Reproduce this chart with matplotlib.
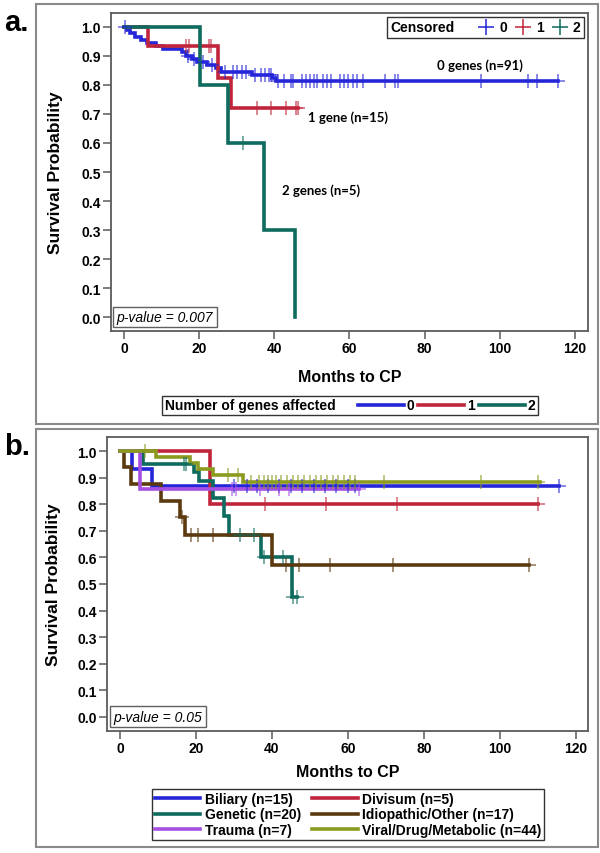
import matplotlib
matplotlib.use('Agg')
import matplotlib.pyplot as plt
import numpy as np
from matplotlib.lines import Line2D
from matplotlib.patches import Rectangle
from matplotlib.offsetbox import HPacker

plt.rcParams['font.family'] = ['Liberation Sans', 'DejaVu Sans']
plt.rcParams['font.weight'] = 'bold'

# ---- panel a: number of genes affected ----
a_names = ['0', '1', '2']
a_colors = ['#2626d9', '#c0253c', '#0e6b5d']
a_event_t = [[0.7, 1.6, 3.0, 4.5, 6.0, 8.5, 10.5, 15.5, 16.5, 18.0, 19.5, 22.0, 24.5, 25.8, 34.0, 39.5, 40.5],
             [6.5, 25.0, 28.5],
             [20.2, 27.7, 37.2, 45.4]]
a_event_s = [[0.989, 0.978, 0.967, 0.956, 0.945, 0.934, 0.923, 0.912, 0.901, 0.890, 0.879, 0.868, 0.857, 0.846, 0.834, 0.825, 0.815],
             [0.933, 0.825, 0.72],
             [0.8, 0.6, 0.3, 0.0]]
a_cens_t = [[0.3, 17.0, 18.5, 21.0, 23.5, 27.0, 29.0, 30.0, 31.5, 32.5, 35.0, 36.5, 37.5, 38.5, 39.0,
             41.0, 42.5, 44.5, 45.0, 47.5, 48.5, 49.5, 50.5, 51.5, 53.0, 54.0, 55.0, 57.5, 58.5, 59.5,
             61.0, 62.0, 63.5, 69.5, 72.0, 73.0, 95.0, 107.5, 110.0, 115.5],
            [16.6, 17.2, 22.6, 23.1, 35.4, 39.1, 43.2, 45.8, 46.3],
            [31.7]]
a_end = [115.5, 46.3, 45.4]
a_notes = ['0 genes (n=91)', '1 gene (n=15)', '2 genes (n=5)']
a_note_xy = [(94.7, 0.87), (59.6, 0.692), (52.4, 0.438)]

# ---- panel b: etiology ----
b_names = ['Biliary (n=15)', 'Divisum (n=5)', 'Genetic (n=20)', 'Idiopathic/Other (n=17)',
           'Trauma (n=7)', 'Viral/Drug/Metabolic (n=44)']
b_colors = ['#2626d9', '#c0253c', '#0e6b5d', '#5b3a10', '#a64fe3', '#8b9b1f']
b_event_t = [[3.1, 8.4],
             [23.8],
             [6.2, 19.5, 20.8, 24.5, 27.4, 28.6, 37.2, 45.3],
             [1.2, 2.8, 10.7, 15.7, 17.0, 40.0],
             [5.2],
             [9.5, 18.5, 20.6, 24.6, 32.4]]
b_event_s = [[0.933, 0.867],
             [0.8],
             [0.95, 0.92, 0.887, 0.823, 0.755, 0.685, 0.60, 0.45],
             [0.94, 0.875, 0.814, 0.752, 0.683, 0.57],
             [0.857],
             [0.977, 0.955, 0.932, 0.909, 0.882]]
b_cens_t = [[30.0, 33.5, 36.0, 39.0, 42.0, 45.0, 48.0, 51.0, 54.0, 57.0, 60.0, 62.0, 115.5],
            [38.3, 54.3, 72.8, 110.0],
            [16.8, 17.3, 31.6, 35.4, 38.0, 42.8, 45.6, 46.5],
            [16.3, 18.8, 20.5, 24.6, 43.8, 47.1, 55.2, 71.9, 107.6],
            [29.5, 30.5, 37.0, 42.0, 44.5, 63.0],
            [6.6, 28.5, 31.0, 34.5, 36.5, 38.0, 39.0, 40.0, 41.0, 42.5, 44.0, 45.5, 47.0, 48.5, 50.0,
             51.5, 53.0, 54.5, 56.0, 57.5, 59.0, 60.5, 62.0, 69.5, 95.0, 110.0]]
b_end = [115.5, 110.0, 46.5, 107.6, 63.0, 110.5]

W, H = 600, 854
SPINE = '#5a5a5a'
LW = 2.6


def km_curve(ax, et, es, ct, end, color):
    t = np.r_[0, et, end]
    s = np.r_[1.0, es, es[-1]]
    ax.step(t, s, where='post', color=color, lw=LW, solid_joinstyle='miter', zorder=3)
    idx = np.searchsorted(np.r_[0, et], ct, side='right') - 1
    cy = np.r_[1.0, es][idx]
    ax.plot(ct, cy, ls='none', marker='+', ms=9.5, mew=1.1, color=color, alpha=0.7, zorder=4)


def style_axes(ax, xl, yl):
    ax.set_xlim(*xl)
    ax.set_ylim(*yl)
    ax.set_xticks(np.arange(0, 121, 20))
    ax.set_yticks(np.arange(0, 1.01, 0.1))
    ax.set_yticklabels(['%.1f' % v for v in np.arange(0, 1.01, 0.1)])
    for sp in ax.spines.values():
        sp.set_color(SPINE)
        sp.set_linewidth(1.3)
    ax.tick_params(direction='out', length=5.5, width=1.1, color=SPINE, labelsize=10, pad=2)
    for lab in ax.get_xticklabels() + ax.get_yticklabels():
        lab.set_fontweight('bold')
    ax.set_xlabel('Months to CP', fontsize=11.5, fontweight='bold')
    ax.set_ylabel('Survival Probability', fontsize=12.5, fontweight='bold')


def title_left(leg, sep):
    # put the legend title on the left of the entries instead of above them
    box = leg._legend_box
    new = HPacker(pad=box.pad, sep=sep, align='center', children=box.get_children())
    new.set_figure(leg.figure)
    new.set_offset(leg._findoffset)
    leg._legend_box = new


def fig_rect(x0, y0, x1, y1):
    return [x0 / W, 1 - y1 / H, (x1 - x0) / W, (y1 - y0) / H]


fig = plt.figure(figsize=(6, 8.54), dpi=100)

# outer frames
for y0, y1 in [(5, 425), (430, 848)]:
    fig.patches.append(Rectangle((36 / W, 1 - y1 / H), 562 / W, (y1 - y0) / H,
                                 transform=fig.transFigure, fill=False,
                                 edgecolor='#8a8a8a', lw=1.5))
fig.text(4 / W, 1 - 23 / H, 'a.', fontsize=21, fontweight='bold', va='center')
fig.text(4 / W, 1 - 447 / H, 'b.', fontsize=21, fontweight='bold', va='center')

# ---- panel a ----
ax1 = fig.add_axes(fig_rect(111, 14, 588, 332))
for i in range(3):
    km_curve(ax1, a_event_t[i], a_event_s[i], a_cens_t[i], a_end[i], a_colors[i])
for txt, (x, y) in zip(a_notes, a_note_xy):
    ax1.text(x, y, txt, fontsize=9.5, fontweight='bold', family=['Lato', 'DejaVu Sans'],
             ha='center', va='center')
style_axes(ax1, (-3.46, 123.5), (-0.048, 1.048))
ax1.xaxis.set_label_coords(0.5, -0.118)
ax1.yaxis.set_label_coords(-0.1, 0.5)
ax1.text(0.012, 0.044, 'p-value = 0.007', transform=ax1.transAxes, fontsize=10,
         fontweight='normal', style='italic', va='center', ha='left',
         bbox=dict(boxstyle='square,pad=0.25', fc='white', ec='#606060', lw=1))

cens_handles = [Line2D([], [], ls='none', marker='+', ms=12, mew=1.1, color=c) for c in a_colors]
leg1 = ax1.legend(cens_handles, a_names, loc='center', bbox_to_anchor=(485.5 / W, 1 - 28.5 / H),
                  bbox_transform=fig.transFigure, ncol=3, title='Censored',
                  title_fontproperties={'weight': 'bold', 'size': 10},
                  prop={'weight': 'bold', 'size': 10}, handlelength=1.3, handletextpad=0.3,
                  columnspacing=0.5, borderpad=0.25, fancybox=False, framealpha=1,
                  edgecolor='#333333')
leg1.get_frame().set_linewidth(1.0)
title_left(leg1, 16)

line_handles = [Line2D([], [], color=c, lw=LW) for c in a_colors]
leg2 = fig.legend(line_handles, a_names, loc='center', bbox_to_anchor=(350 / W, 1 - 406.5 / H),
                  ncol=3, title='Number of genes affected',
                  title_fontproperties={'weight': 'bold', 'size': 10},
                  prop={'weight': 'bold', 'size': 10}, handlelength=3.3, handletextpad=0.2,
                  columnspacing=0.3, borderpad=0.2, fancybox=False, framealpha=1,
                  edgecolor='#333333')
leg2.get_frame().set_linewidth(1.0)
title_left(leg2, 16)

# ---- panel b ----
ax2 = fig.add_axes(fig_rect(107, 438, 588, 732))
for i in range(6):
    km_curve(ax2, b_event_t[i], b_event_s[i], b_cens_t[i], b_end[i], b_colors[i])
style_axes(ax2, (-3.4, 123.2), (-0.053, 1.053))
ax2.xaxis.set_label_coords(0.5, -0.112)
ax2.yaxis.set_label_coords(-0.095, 0.5)
ax2.text(0.014, 0.049, 'p-value = 0.05', transform=ax2.transAxes, fontsize=10,
         fontweight='normal', style='italic', va='center', ha='left',
         bbox=dict(boxstyle='square,pad=0.25', fc='white', ec='#606060', lw=1))

b_handles = [Line2D([], [], color=c, lw=LW) for c in b_colors]
order = [0, 2, 4, 1, 3, 5]
leg3 = fig.legend([b_handles[k] for k in order], [b_names[k] for k in order], loc='center',
                  bbox_to_anchor=(348 / W, 1 - 815.5 / H), ncol=2,
                  prop={'weight': 'bold', 'size': 10}, handlelength=3.3, handletextpad=0.3,
                  columnspacing=0.8, labelspacing=0.1, borderpad=0.2, fancybox=False,
                  framealpha=1, edgecolor='#333333')
leg3.get_frame().set_linewidth(1.0)

fig.savefig('out.png', dpi=100)
